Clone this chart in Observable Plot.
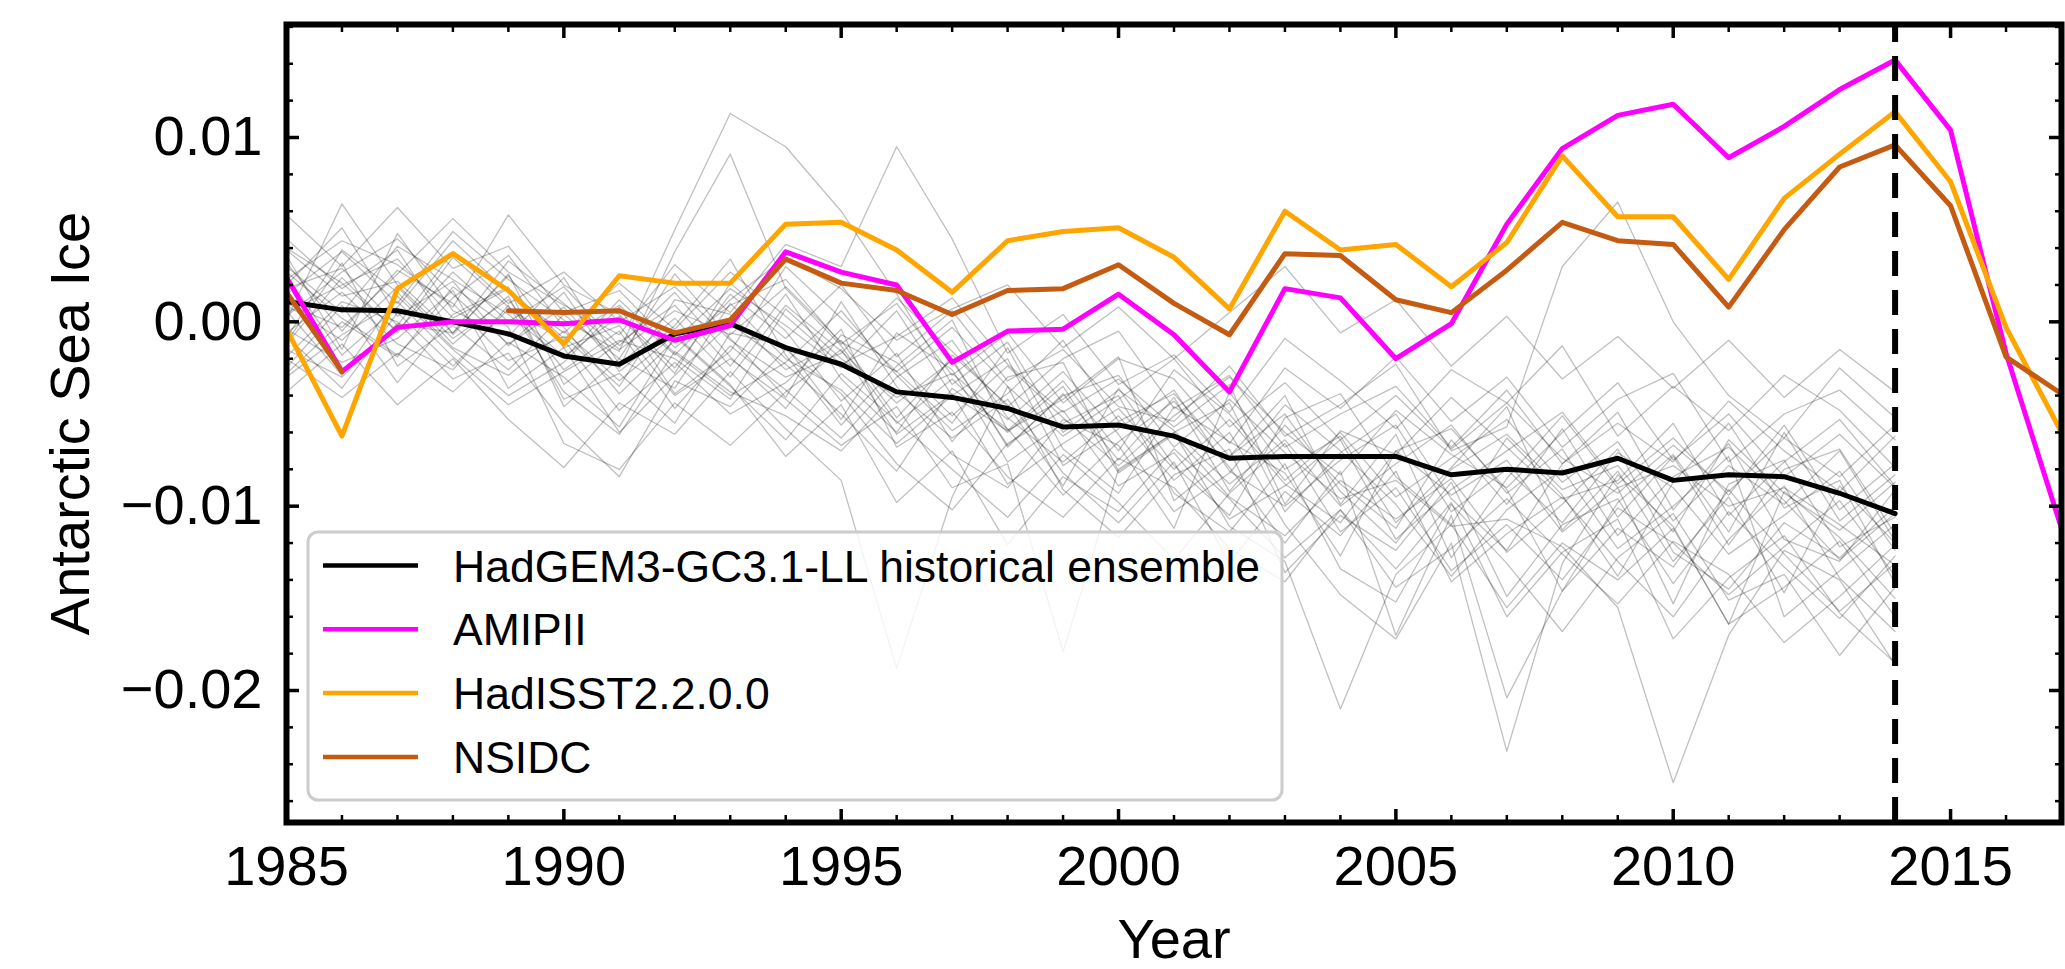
<!DOCTYPE html>
<html>
<head>
<meta charset="utf-8">
<script src="https://cdn.jsdelivr.net/npm/d3@7"></script>
<script src="https://cdn.jsdelivr.net/npm/@observablehq/plot@0.6"></script>
<style>
  html, body { margin: 0; padding: 0; background: #fff; }
  #chart { width: 2065px; height: 969px; }
  svg text { font-family: "Liberation Sans", Arial, sans-serif; }
</style>
</head>
<body>
<div id="chart"></div>
<script>
// ---------- DATA (sea-ice anomaly values in units of 10^-3) ----------
const years = [1985,1986,1987,1988,1989,1990,1991,1992,1993,1994,1995,1996,1997,1998,1999,
               2000,2001,2002,2003,2004,2005,2006,2007,2008,2009,2010,2011,2012,2013,2014,
               2015,2016,2017];
const ensembleYears = [1985,1986,1987,1988,1989,1990,1991,1992,1993,1994,1995,1996,1997,1998,1999,
                       2000,2001,2002,2003,2004,2005,2006,2007,2008,2009,2010,2011,2012,2013,2014];

const hadgemMean = [1.1, 0.65, 0.6, 0.0, -0.65, -1.85, -2.3, -0.65, -0.1, -1.4,
                    -2.3, -3.8, -4.1, -4.7, -5.7, -5.6, -6.2, -7.4, -7.3, -7.3,
                    -7.3, -8.3, -8.0, -8.2, -7.4, -8.6, -8.3, -8.4, -9.3, -10.4];

const amipII = [2.4, -2.7, -0.3, 0.0, 0.0, -0.1, 0.1, -1.0, -0.2, 3.8,
                2.7, 2.0, -2.2, -0.5, -0.4, 1.5, -0.7, -3.8, 1.8, 1.3,
                -2.0, -0.1, 5.3, 9.4, 11.2, 11.8, 8.9, 10.6, 12.6, 14.2,
                10.4, -1.7, -11.2];

const hadisst = [-0.4, -6.2, 1.8, 3.7, 1.7, -1.2, 2.5, 2.1, 2.1, 5.3,
                 5.4, 3.9, 1.6, 4.4, 4.9, 5.1, 3.5, 0.7, 6.0, 3.9,
                 4.2, 1.9, 4.3, 9.0, 5.7, 5.7, 2.3, 6.7, 9.1, 11.4,
                 7.6, -0.3, -6.0];

const nsidc = [1.6, -2.7, null, null, 0.6, 0.5, 0.6, -0.6, 0.1, 3.4,
               2.1, 1.7, 0.4, 1.7, 1.8, 3.1, 1.0, -0.7, 3.7, 3.6,
               1.2, 0.5, 2.8, 5.4, 4.4, 4.2, 0.8, 5.0, 8.4, 9.6,
               6.3, -1.9, -3.9];

// individual historical ensemble members (estimated from the spaghetti)
const ensembleMembers = [
  [3.2,-0.5,2.8,1.0,-2.1,-0.8,-3.5,1.2,0.4,-2.6,-1.0,-5.2,-2.0,-6.8,-3.9,-7.5,-4.1,-9.2,-5.6,-8.8,-11.2,-6.4,-9.9,-5.8,-10.6,-7.3,-12.1,-8.0,-6.9,-11.5],
  [-1.2,2.4,-0.6,3.5,0.8,-1.9,0.3,-2.8,2.1,-0.5,-4.3,-1.7,-6.5,-3.0,-2.2,-8.1,-6.0,-4.4,-10.3,-7.1,-5.0,-9.6,-12.4,-7.7,-4.9,-10.2,-6.6,-11.8,-13.0,-9.1],
  [4.5,1.8,3.9,-0.7,2.6,-3.4,-1.1,0.9,-2.4,1.5,-3.1,-6.0,-1.8,-4.5,-8.9,-3.6,-7.8,-10.5,-5.2,-3.9,-8.4,-11.0,-6.3,-9.4,-13.8,-8.7,-5.5,-10.1,-8.6,-14.2],
  [0.6,-2.9,1.4,-1.5,-4.0,-2.2,0.8,-3.9,-1.6,3.0,0.2,-2.7,-5.5,-1.4,-6.9,-9.3,-4.6,-6.5,-8.2,-12.7,-7.0,-5.8,-9.1,-14.6,-9.8,-7.2,-11.4,-6.0,-10.8,-8.3],
  [2.0,5.1,0.3,2.2,-1.3,1.6,-2.7,-0.2,3.4,-1.8,-5.6,-2.4,0.1,-5.9,-4.2,-1.9,-9.7,-7.3,-4.0,-9.9,-6.1,-12.8,-8.5,-5.1,-9.0,-15.3,-8.8,-7.5,-12.2,-10.6],
  [-2.5,0.9,-3.3,0.4,1.9,-4.6,-2.0,2.6,-0.9,-4.1,1.1,-3.5,-7.2,-9.0,-5.3,-6.7,-11.2,-3.8,-8.0,-6.2,-10.9,-7.9,-4.6,-11.3,-8.1,-13.0,-9.5,-14.7,-8.9,-12.0],
  [5.8,3.0,6.2,2.9,4.1,0.5,1.7,-1.4,0.9,2.3,-1.2,1.0,-2.9,-0.6,-4.4,-2.0,-3.1,-6.6,-2.5,-4.7,-1.9,-5.4,-3.0,-6.8,-4.2,-2.8,-7.6,-5.0,-3.7,-6.4],
  [-0.8,-3.6,0.5,-2.4,0.7,-1.0,-4.8,-2.2,-5.0,-3.3,-0.4,-6.8,-4.9,-8.4,-10.6,-7.4,-9.0,-12.3,-14.1,-10.2,-13.4,-9.8,-16.0,-12.5,-10.7,-17.2,-13.9,-11.6,-15.8,-18.5],
  [1.5,3.8,1.0,4.9,2.3,0.1,-1.6,5.0,11.3,9.5,6.0,1.5,-3.4,-1.1,-6.0,-3.7,-5.9,-8.8,-6.4,-10.0,-7.7,-5.6,-9.3,-6.9,-11.6,-8.4,-6.8,-9.7,-12.9,-10.4],
  [-3.8,-1.2,-4.5,-2.0,-5.3,-7.9,-4.4,-6.1,-2.7,-5.8,-8.6,-18.8,-9.5,-3.5,-9.1,-11.7,-8.3,-6.9,-13.6,-10.5,-12.4,-8.7,-14.9,-11.0,-9.6,-14.2,-10.3,-13.3,-16.1,-12.7],
  [2.7,0.2,-1.8,1.3,3.6,-0.3,-3.9,-1.0,1.8,-0.2,-2.5,0.6,-4.0,-5.9,-3.2,-7.0,-2.6,-5.0,-8.6,-6.0,-9.5,-7.4,-5.3,-8.7,-6.5,-10.8,-7.8,-9.9,-7.0,-11.9],
  [0.1,6.4,2.0,-0.9,1.2,-2.6,-0.5,-4.7,-1.3,-3.7,-6.3,-3.0,-1.0,-5.2,-7.6,-5.1,-8.6,-6.0,-11.0,-14.8,-17.2,-12.0,-23.3,-13.1,-8.3,-11.1,-16.4,-9.2,-11.7,-15.0],
  [3.6,-1.5,4.8,0.6,-0.8,2.4,-2.3,0.2,-3.0,0.9,-1.6,-4.4,-2.1,-6.7,-4.0,-2.9,-6.8,-4.2,-7.1,-9.6,-8.6,-11.1,-10.7,-12.2,-15.5,-25.0,-17.0,-12.4,-14.0,-18.6],
  [-1.9,1.1,0.0,-3.1,-1.7,-5.5,-8.4,-3.2,-4.6,-1.5,-3.9,-7.7,-10.2,-6.6,-4.8,-8.9,-7.1,-10.7,-8.9,-6.4,-11.8,-9.1,-7.0,-4.9,-8.8,-6.3,-9.4,-5.6,-10.2,-7.7],
  [1.0,-0.3,2.6,5.6,2.7,0.9,-0.7,3.1,0.5,4.2,3.0,9.5,4.5,-1.7,0.4,-3.4,-1.8,-4.9,-0.9,-3.2,-5.8,-2.6,-4.4,-1.3,-6.2,-3.5,-5.9,-2.9,-4.8,-7.9],
  [-0.4,-2.2,-0.9,1.7,-3.6,-1.4,-6.0,-2.9,-0.1,-2.3,-5.0,-8.1,-3.6,-5.8,-9.4,-6.5,-4.3,-7.9,-12.0,-8.1,-17.0,-10.5,-20.4,-14.6,-11.2,-13.3,-9.1,-12.6,-15.7,-13.1],
  [2.3,4.4,3.1,0.8,5.8,2.0,0.4,-2.5,1.5,-0.9,2.0,-1.9,0.6,-3.2,-1.5,-4.6,-5.4,-2.4,-6.2,-4.5,-2.3,-7.0,-5.7,3.0,6.5,0.0,-4.0,-6.3,-2.5,-5.2],
  [-2.0,-4.1,-1.7,-3.8,-1.1,-3.0,-5.7,-0.8,-3.5,-6.4,-2.8,-5.4,-8.0,-10.6,-7.2,-9.8,-12.9,-9.3,-6.6,-11.4,-9.0,-13.5,-11.0,-14.0,-10.1,-12.0,-14.8,-12.2,-9.7,-13.8],
  [4.0,2.1,-0.5,2.7,0.0,1.9,-1.3,1.6,-1.9,-4.7,-0.7,-2.2,-5.1,-2.4,-5.2,-7.8,-5.1,-3.0,-6.0,-8.3,-4.8,-7.2,-9.0,-6.0,-3.3,-7.5,-5.0,-8.4,-6.1,-9.0],
  [0.9,-1.0,1.9,-1.2,1.4,-4.2,-2.8,-5.5,-0.6,-1.3,-5.3,-0.6,-2.6,-7.6,-5.5,-4.0,-9.3,-11.4,-7.7,-13.4,-15.2,-9.9,-13.1,-16.8,-12.8,-10.4,-15.1,-13.7,-18.1,-14.4],
  [-1.1,3.2,-2.4,-0.2,-2.6,0.4,-2.0,-3.6,1.0,-2.0,-3.7,-6.6,-4.0,-2.0,-7.8,-5.8,-3.7,-8.1,-10.0,-7.5,-5.6,-10.3,-8.0,-10.9,-7.1,-9.0,-12.6,-10.5,-8.1,-12.4],
  [3.0,0.5,4.1,2.3,0.4,-2.0,1.2,-1.7,-4.0,-2.2,0.6,-2.9,-5.9,-3.9,-1.0,-5.4,-3.9,-7.3,-5.0,-9.2,-12.0,-8.0,-6.1,-9.1,-7.8,-11.4,-6.4,-9.3,-11.3,-8.7],
  [-3.0,-0.7,1.1,-1.9,-4.5,-2.7,-1.0,-2.0,-4.2,0.7,-2.0,-4.1,-2.8,-5.3,-2.7,-6.1,-10.3,-8.2,-4.5,-7.0,-9.9,-13.8,-10.2,-8.0,-12.3,-10.0,-7.3,-16.0,-13.5,-11.0],
  [1.8,2.9,-0.2,3.8,1.0,2.7,0.0,1.9,-1.0,-3.0,-1.7,1.3,-1.6,-4.6,-2.0,-0.5,-4.7,-2.9,-6.8,-5.0,-3.5,-6.8,-3.7,-7.7,-5.5,-7.6,-4.3,-7.0,-9.2,-6.2],
  [-0.6,1.6,-1.2,-2.6,0.9,-3.8,-6.1,-1.6,-3.8,-5.1,-7.0,-3.8,-6.3,-4.2,-8.2,-10.9,-7.6,-13.1,-9.2,-11.6,-8.1,-14.1,-11.5,-9.5,-13.0,-16.0,-11.8,-8.9,-13.9,-16.8],
  [2.5,-1.8,0.8,4.4,1.6,-0.6,2.1,-0.4,2.7,0.3,-2.3,-0.8,1.3,-2.3,-4.9,-3.1,-5.7,-3.4,-9.9,-5.9,-7.2,-4.1,-6.8,-9.6,-8.6,-5.5,-10.5,-7.6,-5.3,-8.9],
  [0.3,2.7,4.5,1.5,-1.2,0.8,-2.5,3.8,9.1,1.8,-1.3,-5.5,-3.1,-6.0,-3.5,-8.2,-6.1,-9.5,-11.6,-8.6,-10.7,-8.5,-12.5,-9.9,-6.9,-12.5,-14.5,-10.9,-12.8,-10.0],
  [-1.5,-3.0,-0.1,-0.6,2.5,-1.4,-0.2,-4.0,-2.0,-4.2,-6.7,-4.6,-9.0,-7.7,-17.9,-8.0,-6.0,-11.1,-13.0,-21.0,-13.7,-11.0,-15.5,-12.0,-14.0,-11.2,-16.4,-14.4,-11.9,-16.0],
  [3.9,1.4,2.2,-0.6,3.3,1.0,-1.5,0.6,-0.7,1.9,-1.1,-2.7,-0.3,-3.5,-6.2,-4.2,-2.0,-5.7,-3.3,-6.4,-4.0,-6.9,-4.4,-7.4,-9.3,-6.7,-9.2,-6.3,-8.4,-5.6],
  [-2.8,0.0,-1.9,1.9,-0.3,-6.6,-8.0,-4.4,-6.7,-3.8,-1.5,-6.1,-3.9,-8.8,-6.6,-4.7,-8.0,-5.3,-8.8,-10.9,-7.0,-9.4,-7.5,-11.4,-9.0,-7.8,-10.0,-9.0,-11.0,-13.2],
  [0.5,2.0,3.4,0.2,1.8,-0.9,0.9,-1.8,1.2,3.5,1.8,-1.0,0.7,2.0,-1.4,0.8,-2.0,0.5,3.0,-0.6,1.2,-2.4,0.3,-3.1,-0.8,-3.6,-1.0,-4.1,-1.5,-3.8],
  [-0.9,3.9,1.6,-1.4,-2.9,-0.5,-3.2,-0.7,-3.4,-7.3,-4.5,-9.8,-7.0,-12.1,-8.4,-10.3,-6.9,-9.6,-12.8,-10.2,-14.4,-12.3,-9.6,-12.6,-15.3,-11.9,-13.7,-17.4,-14.9,-12.1]
];

const cutoffYear = 2014;
const xMajorTicks = [1985, 1990, 1995, 2000, 2005, 2010, 2015];
const yMajorTicks = [-20, -10, 0, 10];
const seriesNames = ["HadGEM3-GC3.1-LL historical ensemble", "AMIPII", "HadISST2.2.0.0", "NSIDC"];
const seriesColors = ["#000000", "#ff00ff", "#ffa500", "#c55a11"];
const xLabel = "Year";
const yLabel = "Antarctic Sea Ice";

// ---------- build tables ----------
const ensembleRows = ensembleMembers.flatMap((vals, m) =>
  vals.map((v, i) => ({member: m, year: ensembleYears[i], value: v})));
const toRows = (vals, yrs) => vals.map((v, i) => ({year: yrs[i], value: v}));
const meanRows = toRows(hadgemMean, ensembleYears);
const amipRows = toRows(amipII, years);
const hadisstRows = toRows(hadisst, years);
const nsidcRows = toRows(nsidc, years);

const X_DOMAIN = [1985, 2017];
const Y_DOMAIN = [-27.16, 16.13];
const xMinorTicks = d3.range(1985, 2018).filter(d => !xMajorTicks.includes(d));
const yMinorTicks = d3.range(-26, 17, 2).filter(d => !yMajorTicks.includes(d));
const FONT = 56;
const LINE_W = 5;

const tickCommon = {fill: "none", label: null};
const plot = Plot.plot({
  width: 2065,
  height: 969,
  marginLeft: 286,
  marginRight: 4,
  marginTop: 24,
  marginBottom: 147,
  style: {fontFamily: "'Liberation Sans', Arial, sans-serif", fontSize: FONT + "px", background: "#ffffff", color: "#000000"},
  x: {domain: X_DOMAIN},
  y: {domain: Y_DOMAIN},
  marks: [
    Plot.line(ensembleRows, {x: "year", y: "value", z: "member", stroke: "#000", strokeOpacity: 0.25, strokeWidth: 1.3}),
    Plot.line(meanRows, {x: "year", y: "value", stroke: seriesColors[0], strokeWidth: LINE_W}),
    Plot.line(amipRows, {x: "year", y: "value", stroke: seriesColors[1], strokeWidth: LINE_W}),
    Plot.line(hadisstRows, {x: "year", y: "value", stroke: seriesColors[2], strokeWidth: LINE_W}),
    Plot.line(nsidcRows, {x: "year", y: "value", stroke: seriesColors[3], strokeWidth: LINE_W}),
    Plot.ruleX([cutoffYear], {y1: Y_DOMAIN[0], y2: Y_DOMAIN[1], stroke: "#000", strokeWidth: 6, strokeDasharray: "25,14"}),
    // inward ticks on all four sides
    Plot.axisX(xMajorTicks, {anchor: "bottom", tickSize: -13, strokeWidth: 3.5, ...tickCommon}),
    Plot.axisX(xMinorTicks, {anchor: "bottom", tickSize: -7, strokeWidth: 2.5, ...tickCommon}),
    Plot.axisX(xMajorTicks, {anchor: "top", tickSize: -13, strokeWidth: 3.5, ...tickCommon}),
    Plot.axisX(xMinorTicks, {anchor: "top", tickSize: -7, strokeWidth: 2.5, ...tickCommon}),
    Plot.axisY(yMajorTicks, {anchor: "left", tickSize: -13, strokeWidth: 3.5, ...tickCommon}),
    Plot.axisY(yMinorTicks, {anchor: "left", tickSize: -7, strokeWidth: 2.5, ...tickCommon}),
    Plot.axisY(yMajorTicks, {anchor: "right", tickSize: -13, strokeWidth: 3.5, ...tickCommon}),
    Plot.axisY(yMinorTicks, {anchor: "right", tickSize: -7, strokeWidth: 2.5, ...tickCommon}),
    // tick labels
    Plot.axisX(xMajorTicks, {anchor: "bottom", tickSize: 0, tickPadding: 23, tickFormat: d => String(d), fontSize: FONT, label: null}),
    Plot.axisY(yMajorTicks, {anchor: "left", tickSize: 0, tickPadding: 24, tickFormat: d => d3.format(".2f")(d / 1000), fontSize: FONT, label: null}),
    // axis titles
    Plot.text([xLabel], {text: d => d, frameAnchor: "bottom", dy: 118, fontSize: FONT, lineAnchor: "middle", textAnchor: "middle"}),
    Plot.text([yLabel], {text: d => d, frameAnchor: "left", dx: -215, rotate: -90, fontSize: FONT, lineAnchor: "middle", textAnchor: "middle"}),
    Plot.frame({stroke: "#000", strokeWidth: 6})
  ]
});

// ---------- legend (drawn inside the plot, lower left) ----------
const svg = d3.select(plot);
const lg = svg.append("g").attr("class", "legend").attr("text-anchor", "start");
const LX = 308, LY = 532, LW = 974, LH = 268;
lg.append("rect").attr("x", LX).attr("y", LY).attr("width", LW).attr("height", LH)
  .attr("rx", 10).attr("fill", "#ffffff").attr("fill-opacity", 0.8)
  .attr("stroke", "#cccccc").attr("stroke-width", 3);
seriesNames.forEach((name, i) => {
  const yLine = LY + 33.5 + i * 63.8;
  lg.append("line").attr("x1", LX + 15).attr("x2", LX + 110)
    .attr("y1", yLine).attr("y2", yLine)
    .attr("stroke", seriesColors[i]).attr("stroke-width", 4.5);
  lg.append("text").attr("x", LX + 145).attr("y", yLine + 16)
    .attr("text-anchor", "start")
    .attr("font-size", 44.5).attr("fill", "#000")
    .attr("font-family", "'Liberation Sans', Arial, sans-serif")
    .text(name);
});

document.getElementById("chart").appendChild(plot);
</script>
</body>
</html>
